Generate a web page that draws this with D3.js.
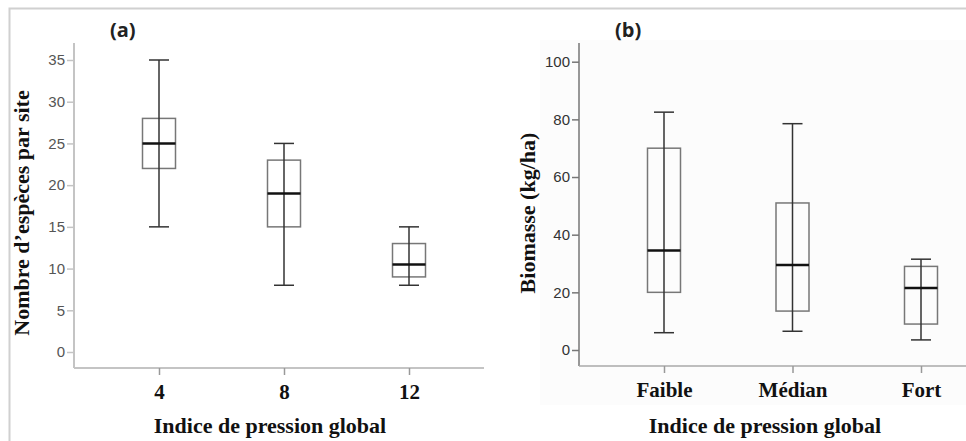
<!DOCTYPE html>
<html>
<head>
<meta charset="utf-8">
<script src="https://cdn.jsdelivr.net/npm/d3@7"></script>
<style>
  body { margin: 0; background: #fff; }
  svg { display: block; }
</style>
</head>
<body>
<svg id="viz" width="966" height="441"></svg>
<script>
// panel (a) : species per site vs pressure index
const catsA = ["4", "8", "12"];
const minA = [15, 8, 8];
const q1A = [22, 15, 9];
const medA = [25, 19, 10.5];
const q3A = [28, 23, 13];
const maxA = [35, 25, 15];
const ticksA = [0, 5, 10, 15, 20, 25, 30, 35];

// panel (b) : biomass vs pressure class
const catsB = ["Faible", "Médian", "Fort"];
const minB = [6, 6.5, 3.5];
const q1B = [20, 13.5, 9];
const medB = [34.5, 29.5, 21.5];
const q3B = [70, 51, 29];
const maxB = [82.5, 78.5, 31.5];
const ticksB = [0, 20, 40, 60, 80, 100];

const svg = d3.select("#viz");
const serif = "'Liberation Serif', 'Times New Roman', serif";
const sans = "'Liberation Sans', Arial, sans-serif";

// outer frame (top + left only)
svg.append("path")
    .attr("d", "M9.5,441 L9.5,8.5 L966,8.5")
    .attr("fill", "none")
    .attr("stroke", "#d0d0d0")
    .attr("stroke-width", 2);

// very faint background behind panel b
svg.append("rect")
    .attr("x", 540).attr("y", 40).attr("width", 426).attr("height", 365)
    .attr("fill", "#fcfcfc");

function panel(opt) {
    const g = svg.append("g");
    const x = d3.scalePoint().domain(opt.cats).range(opt.xRange);
    const y = d3.scaleLinear().domain(opt.yDomain).range(opt.yRange);

    // axis lines
    g.append("line")
        .attr("x1", opt.axisX).attr("x2", opt.axisX)
        .attr("y1", opt.axisTop).attr("y2", opt.axisY)
        .attr("stroke", opt.yAxisColor).attr("stroke-width", opt.axisWidth);
    g.append("line")
        .attr("x1", opt.axisX).attr("x2", opt.axisRight)
        .attr("y1", opt.axisY).attr("y2", opt.axisY)
        .attr("stroke", opt.xAxisColor).attr("stroke-width", opt.axisWidth);

    // y axis ticks
    const ya = g.append("g")
        .attr("transform", `translate(${opt.axisX},0)`)
        .call(d3.axisLeft(y).tickValues(opt.ticks).tickSize(7).tickPadding(2).tickSizeOuter(0));
    ya.select(".domain").remove();
    ya.selectAll(".tick line").attr("stroke", opt.yAxisColor).attr("stroke-width", 1.5);
    ya.selectAll(".tick text")
        .attr("font-family", sans).attr("font-size", 15)
        .attr("fill", opt.tickColor);

    // x axis ticks
    const xa = g.append("g")
        .attr("transform", `translate(0,${opt.axisY})`)
        .call(d3.axisBottom(x).tickSize(7).tickPadding(9).tickSizeOuter(0));
    xa.select(".domain").remove();
    xa.selectAll(".tick line").attr("stroke", "#999").attr("stroke-width", 1.5);
    xa.selectAll(".tick text")
        .attr("font-family", serif).attr("font-size", 21)
        .attr("font-weight", "bold").attr("fill", "#111");

    // boxes
    const data = opt.cats.map((c, i) => ({
        c, min: opt.min[i], q1: opt.q1[i], med: opt.med[i], q3: opt.q3[i], max: opt.max[i]
    }));
    const bw = 33, cw = 20;
    const b = g.selectAll(".box").data(data).enter().append("g").attr("class", "box");
    b.append("rect")
        .attr("x", d => x(d.c) - bw / 2)
        .attr("y", d => y(d.q3))
        .attr("width", bw)
        .attr("height", d => y(d.q1) - y(d.q3))
        .attr("fill", "none").attr("stroke", "#777").attr("stroke-width", 1.5);
    b.append("line")
        .attr("x1", d => x(d.c)).attr("x2", d => x(d.c))
        .attr("y1", d => y(d.max)).attr("y2", d => y(d.min))
        .attr("stroke", "#333").attr("stroke-width", 1.5);
    b.selectAll(".cap").data(d => [d.min, d.max].map(v => ({ c: d.c, v }))).enter()
        .append("line")
        .attr("x1", d => x(d.c) - cw / 2).attr("x2", d => x(d.c) + cw / 2)
        .attr("y1", d => y(d.v)).attr("y2", d => y(d.v))
        .attr("stroke", "#333").attr("stroke-width", 1.5);
    b.append("line")
        .attr("x1", d => x(d.c) - bw / 2).attr("x2", d => x(d.c) + bw / 2)
        .attr("y1", d => y(d.med)).attr("y2", d => y(d.med))
        .attr("stroke", "#111").attr("stroke-width", 2.5);

    // panel letter
    g.append("text")
        .attr("x", opt.letterX).attr("y", 37)
        .attr("font-family", "'Open Sans', sans-serif").attr("font-weight", "bold")
        .attr("font-size", 20).attr("fill", "#222")
        .text(opt.letter);

    // axis titles
    g.append("text")
        .attr("x", opt.titleX).attr("y", 433)
        .attr("text-anchor", "middle")
        .attr("font-family", serif).attr("font-weight", "bold").attr("font-size", 22)
        .attr("fill", "#111")
        .text("Indice de pression global");
    g.append("text")
        .attr("transform", `translate(${opt.yTitleX},${opt.yTitleY}) rotate(-90)`)
        .attr("text-anchor", "middle")
        .attr("font-family", serif).attr("font-weight", "bold").attr("font-size", 22)
        .attr("fill", "#111")
        .text(opt.yTitle);
}

panel({
    cats: catsA, min: minA, q1: q1A, med: medA, q3: q3A, max: maxA, ticks: ticksA,
    xRange: [159, 409], yDomain: [0, 35], yRange: [352, 60],
    axisX: 74, axisY: 368, axisTop: 43, axisRight: 484, axisWidth: 2,
    yAxisColor: "#c4c4c4", xAxisColor: "#c4c4c4", tickColor: "#555",
    letter: "(a)", letterX: 110,
    titleX: 270, yTitleX: 29, yTitleY: 213,
    yTitle: "Nombre d’espèces par site"
});

panel({
    cats: catsB, min: minB, q1: q1B, med: medB, q3: q3B, max: maxB, ticks: ticksB,
    xRange: [664, 921], yDomain: [0, 100], yRange: [350, 61.7],
    axisX: 579, axisY: 366, axisTop: 43, axisRight: 966, axisWidth: 1.5,
    yAxisColor: "#777", xAxisColor: "#aaa", tickColor: "#333",
    letter: "(b)", letterX: 615,
    titleX: 765, yTitleX: 535, yTitleY: 213,
    yTitle: "Biomasse (kg/ha)"
});
</script>
</body>
</html>
